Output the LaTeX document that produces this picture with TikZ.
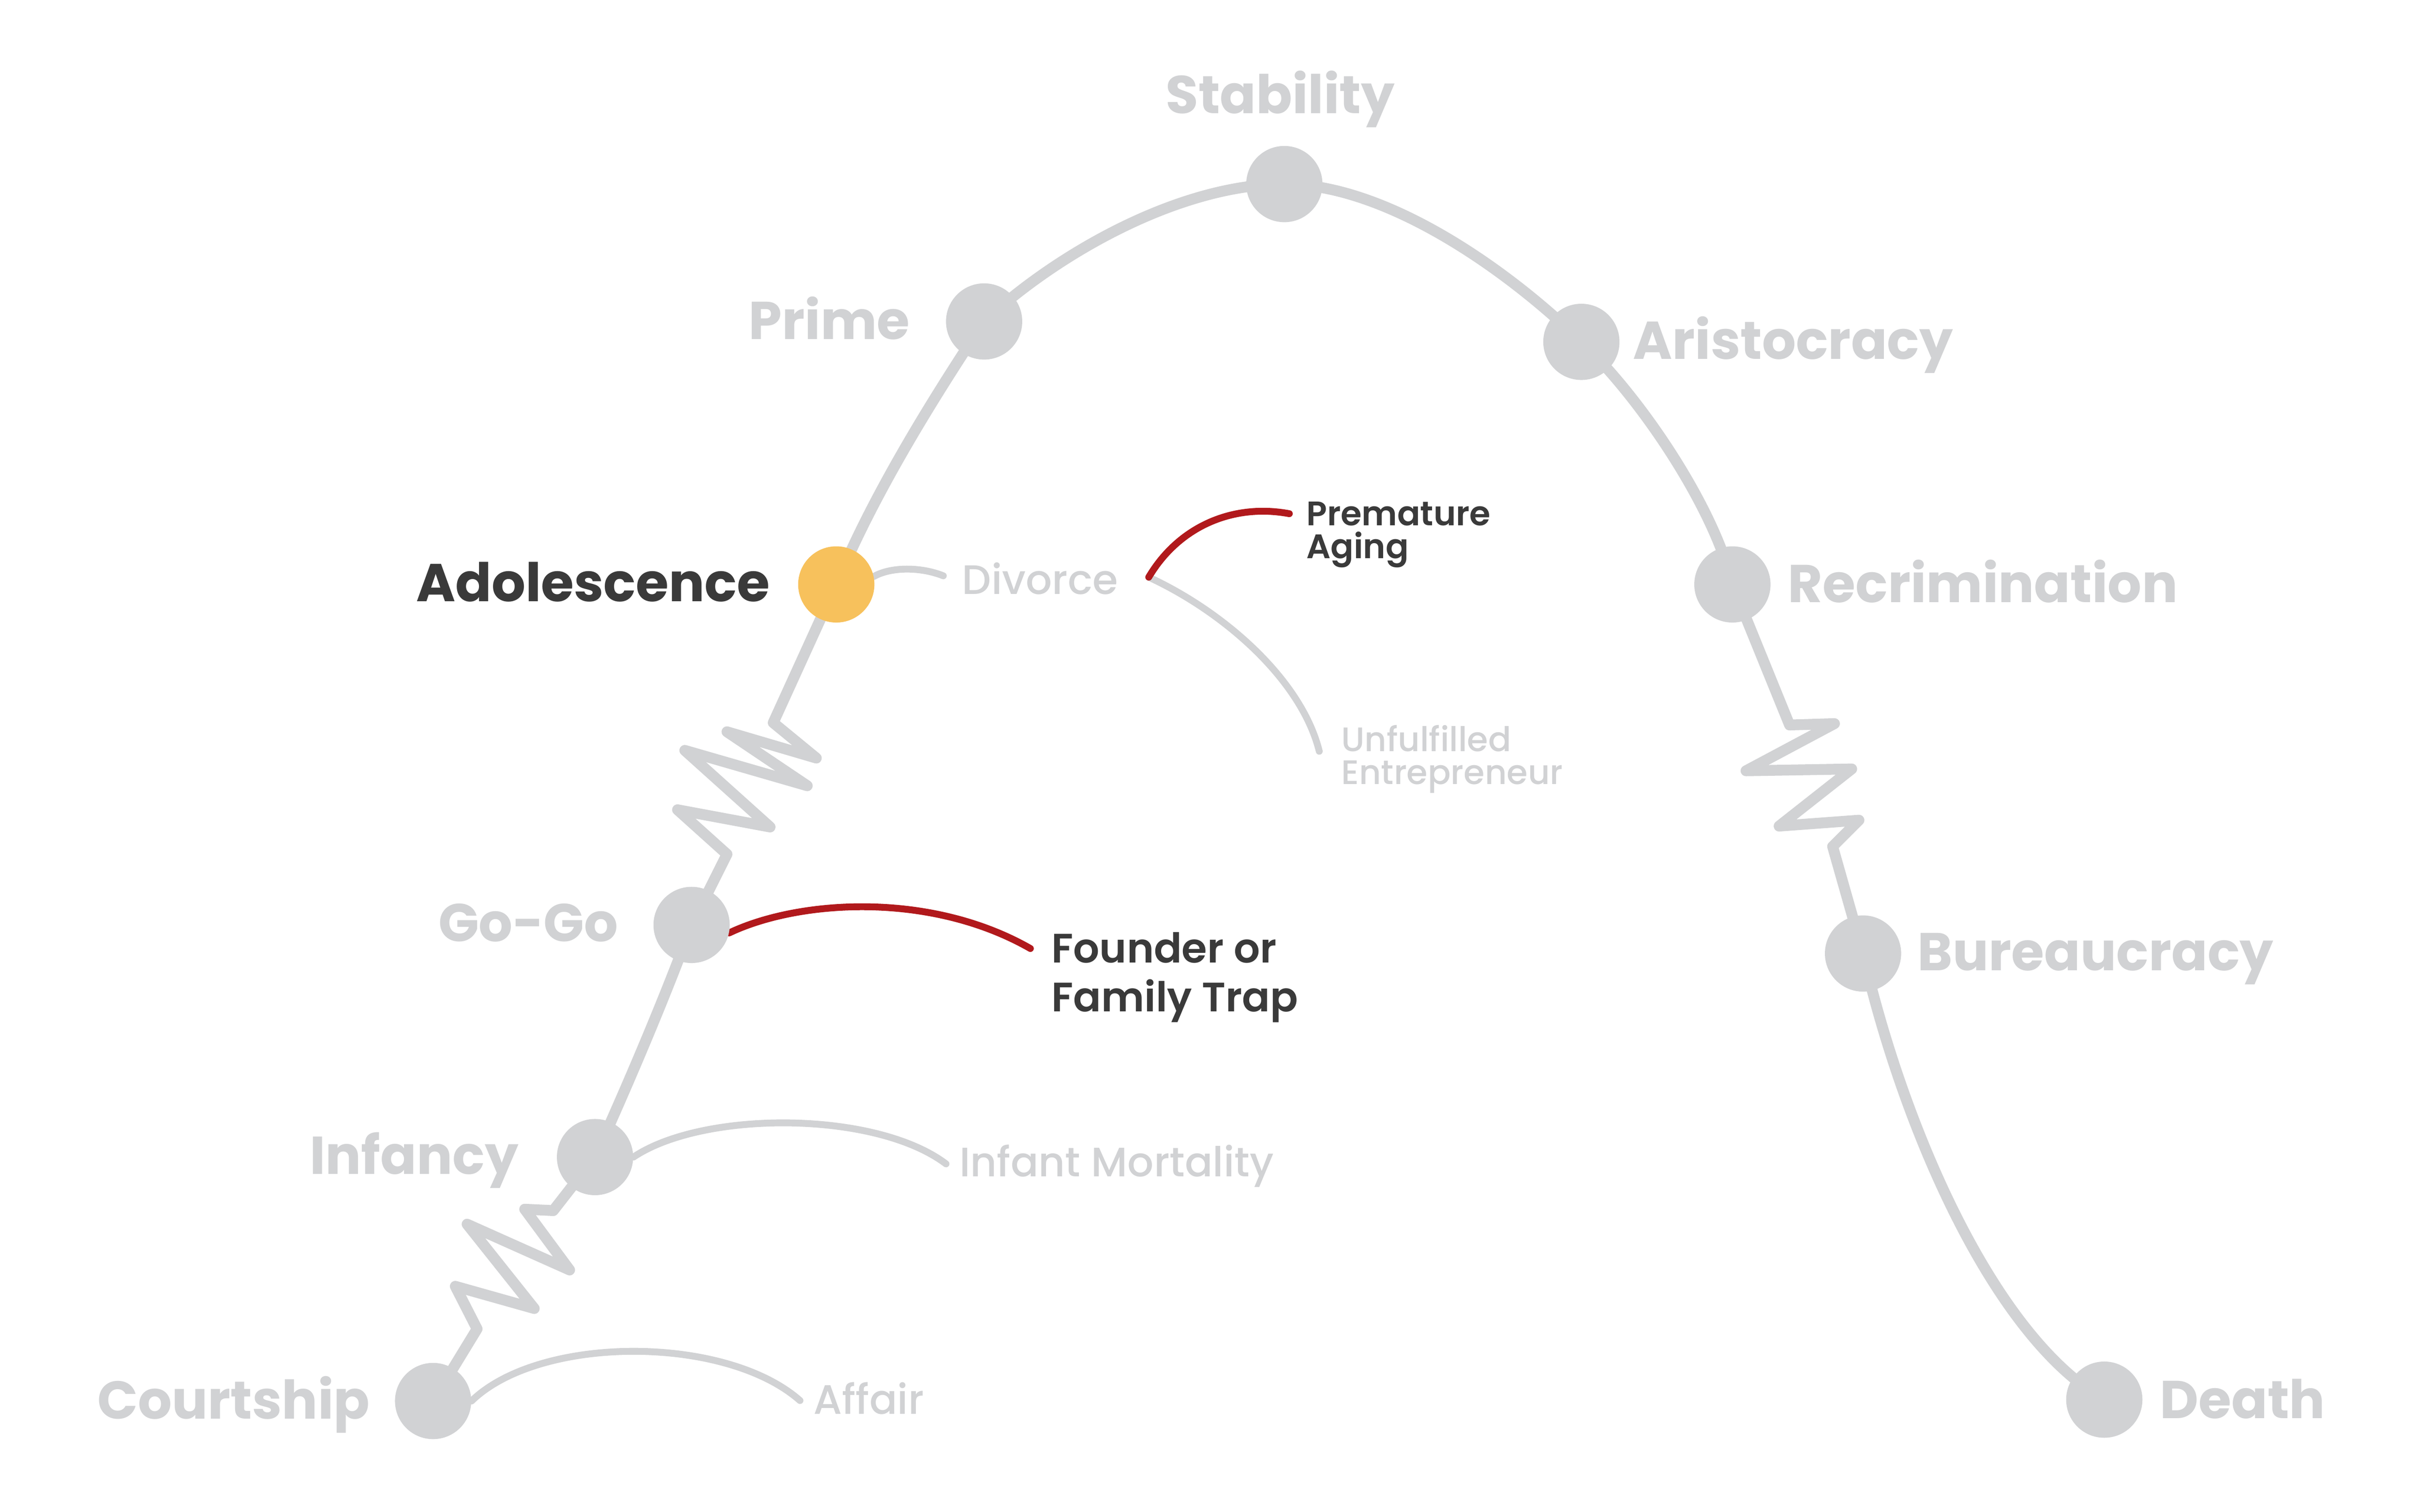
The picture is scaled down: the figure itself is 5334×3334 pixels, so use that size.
\documentclass[tikz,border=0pt]{standalone}
\usepackage{fontspec}
\usetikzlibrary{backgrounds}
\setmainfont{Poppins}
\IfFontExistsTF{Poppins SemiBold}{\newfontfamily\semifont{Poppins SemiBold}}{\newcommand\semifont{\bfseries}}
\IfFontExistsTF{Poppins Medium}{\newfontfamily\medfont{Poppins Medium}}{\newcommand\medfont{\mdseries}}
\definecolor{lgray}{HTML}{D1D2D4}
\definecolor{dtext}{HTML}{3A3A3A}
\definecolor{dred}{HTML}{B1191C}
\definecolor{gold}{HTML}{F7C15C}
\begin{document}
\begin{tikzpicture}[x=0.01cm,y=-0.01cm,
  stage/.style={circle,fill=lgray,minimum size=1.68cm,inner sep=0pt},
  mainline/.style={draw=lgray,line width=6.8pt,line cap=round,line join=round},
  branch/.style={draw=lgray,line width=4.3pt,line cap=round},
  redbranch/.style={draw=dred,line width=4.3pt,line cap=round},
  biglbl/.style={inner sep=0pt,text=lgray,font=\bfseries\fontsize{33.4}{40}\selectfont},
  smalllbl/.style={inner sep=0pt,text=lgray,font=\medfont\fontsize{25.8}{30}\selectfont},
  tinylbl/.style={inner sep=0pt,text=lgray,font=\medfont\fontsize{21.3}{24}\selectfont},
  darktiny/.style={inner sep=0pt,text=dtext,font=\semifont\fontsize{21.3}{24}\selectfont},
  darksmall/.style={inner sep=0pt,text=dtext,font=\semifont\fontsize{25.8}{30}\selectfont}]
\useasboundingbox (0,0) rectangle (5334,3334);

% stages
\node[stage] (court) at (955,3090) {};
\node[stage] (inf) at (1312,2552) {};
\node[stage] (gogo) at (1525,2040) {};
\node[stage,fill=gold] (adol) at (1844,1289) {};
\node[stage] (prime) at (2170,709) {};
\node[stage] (stab) at (2832,406) {};
\node[stage] (aristo) at (3487,754) {};
\node[stage] (recrim) at (3820,1289) {};
\node[stage] (bureau) at (4108,2103) {};
\node[stage] (death) at (4640,3087) {};

% stage labels
\node[biglbl,anchor=base] (tstab) at (2823,250) {Stability};
\node[biglbl,anchor=base east] (tprime) at (2007,748) {Prime};
\node[biglbl,anchor=base west] (taristo) at (3600,792) {Aristocracy};
\node[biglbl,anchor=base east,text=dtext] (tadol) at (1698,1327) {Adolescence};
\node[biglbl,anchor=base west] (trecrim) at (3942,1329) {Recrimination};
\node[biglbl,anchor=base east] (tgogo) at (1364,2077) {Go-Go};
\node[biglbl,anchor=base west] (tbureau) at (4228,2141) {Bureaucracy};
\node[biglbl,anchor=base east] (tinf) at (1144,2590) {Infancy};
\node[biglbl,anchor=base east] (tcourt) at (816,3129) {Courtship};
\node[biglbl,anchor=base west] (tdeath) at (4762,3128) {Death};

% trap labels
\node[smalllbl,anchor=base west] (tdiv) at (2121,1311) {Divorce};
\node[smalllbl,anchor=base west] (tim) at (2115,2595) {Infant Mortality};
\node[smalllbl,anchor=base west] (taff) at (1793,3119) {Affair};
\node[tinylbl,anchor=base west] (tunf1) at (2957,1657) {Unfulfilled};
\node[tinylbl,anchor=base west] (tunf2) at (2957,1730) {Entrepreneur};
\node[darktiny,anchor=base west] (tpre1) at (2880,1159) {Premature};
\node[darktiny,anchor=base west] (tpre2) at (2880,1232) {Aging};
\node[darksmall,anchor=base west] (tfou1) at (2318,2123) {Founder or};
\node[darksmall,anchor=base west] (tfou2) at (2318,2231) {Family Trap};

% branch ends
\coordinate (divend) at (2080,1270);
\coordinate (fork) at (2533,1273);
\coordinate (premend) at (2843,1133);
\coordinate (unfend) at (2909,1657);
\coordinate (founend) at (2272,2092);
\coordinate (imend) at (2086,2567);
\coordinate (affend) at (1764,3089);

\begin{scope}[on background layer]
  \fill[white] (0,0) rectangle (5334,3334);
  % main life-cycle curve
  \draw[mainline] (court.center) -- (1052,2931) -- (1004,2837) -- (1178,2886)
    -- (1030,2700) -- (1256,2801) -- (1157,2667) -- (1220,2670) -- (inf.center);
  \draw[mainline] (inf.center) .. controls (1390,2380) and (1470,2190) .. (gogo.center);
  \draw[mainline] (gogo.center) -- (1603,1884) -- (1494,1786) -- (1698,1824)
    -- (1510,1655) -- (1780,1733) -- (1603,1614) -- (1800,1672) -- (1705,1594) -- (adol.center);
  \draw[mainline] (adol.center) .. controls (1930,1080) and (2070,860) .. (prime.center);
  \draw[mainline] (prime.center) .. controls (2330,560) and (2600,406) .. (stab.center);
  \draw[mainline] (stab.center) .. controls (3060,406) and (3330,600) .. (aristo.center);
  \draw[mainline] (aristo.center) .. controls (3620,880) and (3780,1120) .. (recrim.center);
  \draw[mainline] (recrim.center) -- (3946,1599) -- (4045,1596) -- (3850,1700)
    -- (4083,1696) -- (3923,1822) -- (4099,1809) -- (4041,1867) -- (bureau.center);
  \draw[mainline] (bureau.center) .. controls (4200,2500) and (4400,2950) .. (death.center);

  % branches
  \draw[branch] (adol.12) .. controls (1965,1250) and (2030,1250) .. (divend);
  \draw[branch] (fork) .. controls (2700,1350) and (2870,1500) .. (unfend);
  \draw[redbranch] (fork) .. controls (2600,1160) and (2720,1110) .. (premend);
  \draw[redbranch] (gogo.-12) .. controls (1760,1985) and (2050,1965) .. (founend);
  \draw[branch] (inf.east) .. controls (1550,2449) and (1930,2449) .. (imend);
  \draw[branch] (court.east) .. controls (1190,2944) and (1600,2944) .. (affend);
\end{scope}
\end{tikzpicture}
\end{document}
